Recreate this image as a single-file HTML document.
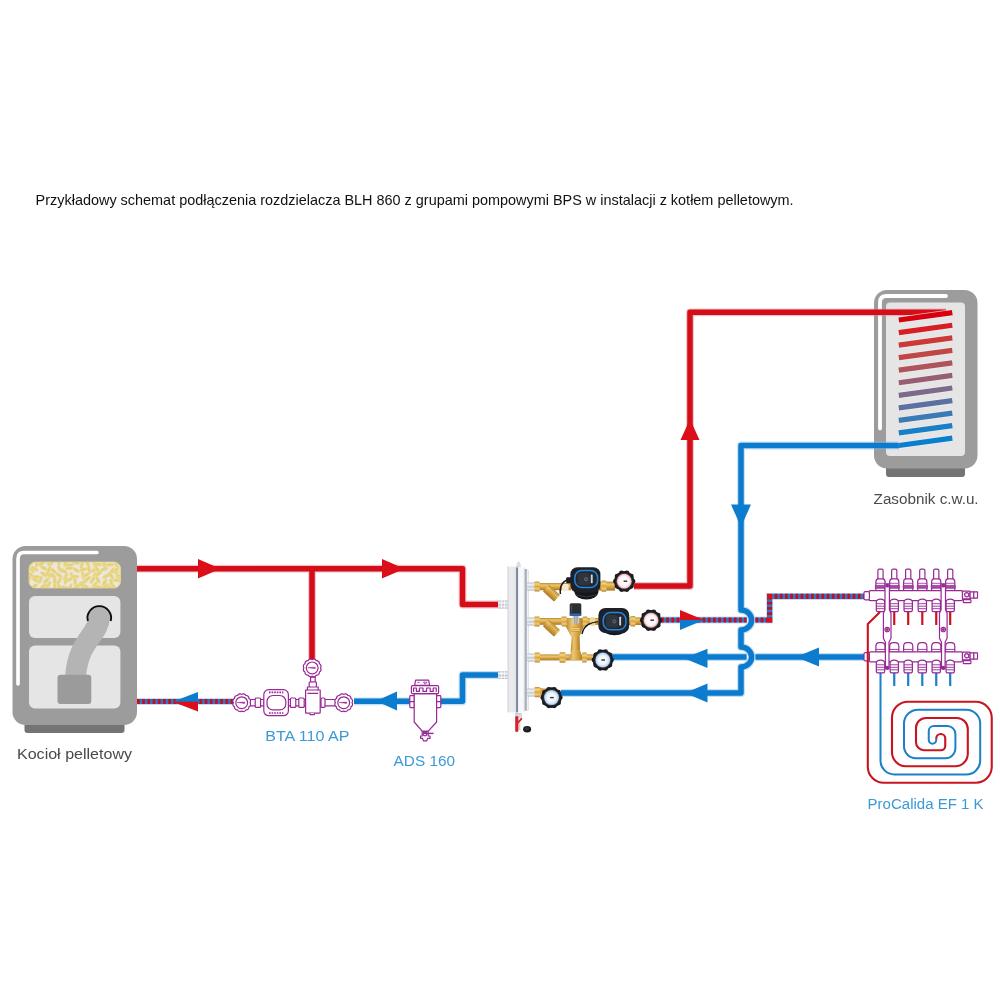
<!DOCTYPE html>
<html lang="pl">
<head>
<meta charset="utf-8">
<title>Schemat BLH 860</title>
<style>
html,body{margin:0;padding:0;background:#fff;}
body{width:1000px;height:1000px;overflow:hidden;font-family:"Liberation Sans",sans-serif;}
svg{display:block;}
text{font-family:"Liberation Sans",sans-serif;}
</style>
</head>
<body>
<svg width="1000" height="1000" viewBox="0 0 1000 1000">
<defs>
  <pattern id="stripeH" width="4" height="8" patternUnits="userSpaceOnUse">
    <rect width="2" height="8" fill="#c8102e"/><rect x="2" width="2" height="8" fill="#2a7fd0"/>
  </pattern>
  <pattern id="stripeV" width="8" height="4" patternUnits="userSpaceOnUse">
    <rect width="8" height="2" fill="#c8102e"/><rect y="2" width="8" height="2" fill="#2a7fd0"/>
  </pattern>
</defs>
<filter id="noop" x="-0.02" y="-0.1" width="1.04" height="1.2" filterUnits="objectBoundingBox"><feOffset dx="0" dy="0"/></filter>
<rect width="1000" height="1000" fill="#fff"/>

<!-- TITLE -->
<g filter="url(#noop)"><text id="title" x="35.6" y="204.6" font-size="14.3" fill="#111" textLength="758" lengthAdjust="spacingAndGlyphs">Przykładowy schemat podłączenia rozdzielacza BLH 860 z grupami pompowymi BPS w instalacji z kotłem pelletowym.</text></g>

<!-- TANK:BEGIN -->
<g id="tank">
  <rect x="886" y="462" width="79" height="15" rx="3" fill="#747474"/>
  <rect x="874" y="290" width="103.5" height="178.5" rx="13" fill="#9c9c9c"/>
  <path d="M946 296H886.5Q880 296 880 302.5V428.5" fill="none" stroke="#fff" stroke-width="3.8" stroke-linecap="round"/>
  <rect x="886" y="302.5" width="79" height="153.5" rx="4" fill="#e5e5e5"/>
</g>
<!-- TANK:END -->

<!-- PIPES:BEGIN -->
<g id="pipes" fill="none" stroke-linejoin="round">
  <!-- halos -->
  <g stroke-width="7.8" opacity="0.5">
    <path stroke="#e8858c" d="M137 568.7H462.5V604.5H499"/>
    <path stroke="#e8858c" d="M312 568.7V659"/>
    <path stroke="#e8858c" d="M634 586H690V312.3H946"/>
    <path stroke="#86bfea" d="M354 701.3H462.5V675H499"/>
    <path stroke="#86bfea" d="M899 445.5H741V610A10.6 10 0 0 1 741 630V647A10.6 10 0 0 1 741 667V693H561"/>
    <path stroke="#86bfea" d="M612 657H746.6 M755.4 657H864"/>
  </g>
  <!-- red supply -->
  <path stroke="#d30e18" stroke-width="5.5" d="M137 568.7H462.5V604.5H499"/>
  <path stroke="#d30e18" stroke-width="5.5" d="M312 568.7V659"/>
  <path stroke="#d30e18" stroke-width="5.5" d="M634 586H690V312.3H946"/>
  <!-- blue return -->
  <path stroke="#0c7bce" stroke-width="5.5" d="M354 701.3H462.5V675H499"/>
  <path stroke="#0c7bce" stroke-width="5.5" d="M899 445.5H741V610A10.6 10 0 0 1 741 630V647A10.6 10 0 0 1 741 667V693H561"/>
  <path stroke="#0c7bce" stroke-width="5.5" d="M612 657H746.6 M755.4 657H864"/>
</g>
<!-- striped pipes -->
<g id="striped" fill="none">
  <g stroke="#9cc6ea" stroke-width="7" opacity="0.6">
    <path d="M137 701.5H235"/><path d="M661 620H746.6M755.4 620H769.6V596.4H864"/>
  </g>
  <g stroke="#2e79c6" stroke-width="5.2">
    <path d="M137 701.5H235"/><path d="M661 620H746.6M755.4 620H769.6V596.4H864"/>
  </g>
  <g stroke="#c01029" stroke-width="5.2" stroke-dasharray="2.8 2.4">
    <path d="M137 701.5H235"/>
    <path d="M661 620H746.6"/><path d="M755.4 620H767"/><path d="M769.6 617.4V599" stroke-dashoffset="2.8"/><path d="M772.2 596.4H864" stroke-dashoffset="2.8"/>
  </g>
  <rect x="767" y="593.8" width="5.2" height="5.2" fill="#db0f19"/>
  <rect x="767" y="617.4" width="5.2" height="5.2" fill="#db0f19"/>
</g>
<!-- arrows -->
<g id="arrows">
  <path fill="#db0f19" d="M198 559L220.5 568.7L198 578.4Z"/>
  <path fill="#db0f19" d="M382 559L404.5 568.7L382 578.4Z"/>
  <path fill="#db0f19" d="M690 419L699.5 440H680.5Z"/>
  <path fill="#0c7ccf" d="M731 504.5H751L741 527Z"/>
  <path fill="#0c7ccf" d="M397 691.5L376 701L397 710.5Z"/>
  <path fill="#0c7ccf" d="M707.5 648.7L684 658.3L707.5 668Z"/>
  <path fill="#0c7ccf" d="M819 647.5L796 657L819 666.5Z"/>
  <path fill="#0c7ccf" d="M707.5 683.5L685 693L707.5 702.5Z"/>
  <path fill="#db0f19" d="M680 610L704 620H680Z"/>
  <path fill="#0c7ccf" d="M680 630L704 620H680Z"/>
  <path fill="#0c7ccf" d="M198 692L172.5 701.8H198Z"/>
  <path fill="#db0f19" d="M198 711.5L172.5 701.8H198Z"/>
</g>
<!-- PIPES:END -->
<!-- COIL:BEGIN -->
<g id="coil" fill="none" stroke-linecap="butt">
  <path d="M898.8 320.00L952.3 312.70" stroke="#f6eeee" stroke-width="6.8" opacity="0.75"/>
  <path d="M898.8 332.55L952.3 325.25" stroke="#f6eeee" stroke-width="6.8" opacity="0.75"/>
  <path d="M898.8 345.10L952.3 337.80" stroke="#f6eeee" stroke-width="6.8" opacity="0.75"/>
  <path d="M898.8 357.65L952.3 350.35" stroke="#f6eeee" stroke-width="6.8" opacity="0.75"/>
  <path d="M898.8 370.20L952.3 362.90" stroke="#f6eeee" stroke-width="6.8" opacity="0.75"/>
  <path d="M898.8 382.75L952.3 375.45" stroke="#f6eeee" stroke-width="6.8" opacity="0.75"/>
  <path d="M898.8 395.30L952.3 388.00" stroke="#f6eeee" stroke-width="6.8" opacity="0.75"/>
  <path d="M898.8 407.85L952.3 400.55" stroke="#f6eeee" stroke-width="6.8" opacity="0.75"/>
  <path d="M898.8 420.40L952.3 413.10" stroke="#f6eeee" stroke-width="6.8" opacity="0.75"/>
  <path d="M898.8 432.95L952.3 425.65" stroke="#f6eeee" stroke-width="6.8" opacity="0.75"/>
  <path d="M898.8 445.50L952.3 438.20" stroke="#f6eeee" stroke-width="6.8" opacity="0.75"/>
  <path d="M898.8 320.00L952.3 312.70" stroke="#d8000f" stroke-width="5.2"/>
  <path d="M898.8 332.55L952.3 325.25" stroke="#d51f25" stroke-width="5.2"/>
  <path d="M898.8 345.10L952.3 337.80" stroke="#cb3a38" stroke-width="5.2"/>
  <path d="M898.8 357.65L952.3 350.35" stroke="#bf4847" stroke-width="5.2"/>
  <path d="M898.8 370.20L952.3 362.90" stroke="#ae545c" stroke-width="5.2"/>
  <path d="M898.8 382.75L952.3 375.45" stroke="#965e72" stroke-width="5.2"/>
  <path d="M898.8 395.30L952.3 388.00" stroke="#7c6a8b" stroke-width="5.2"/>
  <path d="M898.8 407.85L952.3 400.55" stroke="#5c70a2" stroke-width="5.2"/>
  <path d="M898.8 420.40L952.3 413.10" stroke="#3a7bb6" stroke-width="5.2"/>
  <path d="M898.8 432.95L952.3 425.65" stroke="#1880c6" stroke-width="5.2"/>
  <path d="M898.8 445.50L952.3 438.20" stroke="#0a7fd0" stroke-width="5.2"/>
</g>
<!-- COIL:END -->

<!-- BOILER:BEGIN -->
<g id="boiler">
  <rect x="24.5" y="720" width="100" height="13" rx="3" fill="#747474"/>
  <rect x="12.5" y="546" width="124.5" height="179" rx="13" fill="#9c9c9c"/>
  <path d="M97 552.5H24Q18 552.5 18 559V684" fill="none" stroke="#fff" stroke-width="3.6" stroke-linecap="round"/>
  <clipPath id="pelClip"><rect x="29" y="562" width="91.5" height="26" rx="6.5"/></clipPath>
  <rect x="29" y="562" width="91.5" height="26" rx="6.5" fill="#ece6df"/>
  <g clip-path="url(#pelClip)" fill="#e5d37c" stroke="#f1e4b8" stroke-width="0.45"><ellipse cx="30.3" cy="564.2" rx="4.2" ry="1.8" transform="rotate(131 30.3 564.2)"/><ellipse cx="31.6" cy="569.5" rx="4.2" ry="1.8" transform="rotate(53 31.6 569.5)"/><ellipse cx="30.8" cy="574.8" rx="4.2" ry="1.8" transform="rotate(45 30.8 574.8)"/><ellipse cx="28.9" cy="579.7" rx="4.2" ry="1.8" transform="rotate(111 28.9 579.7)"/><ellipse cx="30.6" cy="586.9" rx="4.2" ry="1.8" transform="rotate(47 30.6 586.9)"/><ellipse cx="36.9" cy="563.3" rx="4.2" ry="1.8" transform="rotate(101 36.9 563.3)"/><ellipse cx="34.8" cy="568.8" rx="4.2" ry="1.8" transform="rotate(28 34.8 568.8)"/><ellipse cx="36.1" cy="576.9" rx="4.2" ry="1.8" transform="rotate(6 36.1 576.9)"/><ellipse cx="35.6" cy="580.1" rx="4.2" ry="1.8" transform="rotate(26 35.6 580.1)"/><ellipse cx="34.4" cy="586.3" rx="4.2" ry="1.8" transform="rotate(141 34.4 586.3)"/><ellipse cx="41.6" cy="563.6" rx="4.2" ry="1.8" transform="rotate(-25 41.6 563.6)"/><ellipse cx="43.7" cy="567.9" rx="4.2" ry="1.8" transform="rotate(33 43.7 567.9)"/><ellipse cx="43.7" cy="574.2" rx="4.2" ry="1.8" transform="rotate(37 43.7 574.2)"/><ellipse cx="40.4" cy="579.8" rx="4.2" ry="1.8" transform="rotate(111 40.4 579.8)"/><ellipse cx="43.6" cy="586.3" rx="4.2" ry="1.8" transform="rotate(149 43.6 586.3)"/><ellipse cx="48.7" cy="563.1" rx="4.2" ry="1.8" transform="rotate(78 48.7 563.1)"/><ellipse cx="49.0" cy="570.0" rx="4.2" ry="1.8" transform="rotate(115 49.0 570.0)"/><ellipse cx="48.5" cy="574.8" rx="4.2" ry="1.8" transform="rotate(44 48.5 574.8)"/><ellipse cx="46.3" cy="580.7" rx="4.2" ry="1.8" transform="rotate(138 46.3 580.7)"/><ellipse cx="48.5" cy="584.8" rx="4.2" ry="1.8" transform="rotate(121 48.5 584.8)"/><ellipse cx="51.8" cy="562.7" rx="4.2" ry="1.8" transform="rotate(125 51.8 562.7)"/><ellipse cx="53.6" cy="571.1" rx="4.2" ry="1.8" transform="rotate(46 53.6 571.1)"/><ellipse cx="53.2" cy="576.0" rx="4.2" ry="1.8" transform="rotate(39 53.2 576.0)"/><ellipse cx="54.7" cy="581.7" rx="4.2" ry="1.8" transform="rotate(84 54.7 581.7)"/><ellipse cx="54.7" cy="587.7" rx="4.2" ry="1.8" transform="rotate(93 54.7 587.7)"/><ellipse cx="58.6" cy="562.2" rx="4.2" ry="1.8" transform="rotate(80 58.6 562.2)"/><ellipse cx="59.8" cy="569.2" rx="4.2" ry="1.8" transform="rotate(58 59.8 569.2)"/><ellipse cx="59.1" cy="575.3" rx="4.2" ry="1.8" transform="rotate(39 59.1 575.3)"/><ellipse cx="59.0" cy="581.2" rx="4.2" ry="1.8" transform="rotate(122 59.0 581.2)"/><ellipse cx="59.1" cy="587.3" rx="4.2" ry="1.8" transform="rotate(80 59.1 587.3)"/><ellipse cx="65.3" cy="562.9" rx="4.2" ry="1.8" transform="rotate(105 65.3 562.9)"/><ellipse cx="63.7" cy="571.1" rx="4.2" ry="1.8" transform="rotate(34 63.7 571.1)"/><ellipse cx="65.5" cy="576.8" rx="4.2" ry="1.8" transform="rotate(118 65.5 576.8)"/><ellipse cx="65.9" cy="580.4" rx="4.2" ry="1.8" transform="rotate(104 65.9 580.4)"/><ellipse cx="64.1" cy="587.6" rx="4.2" ry="1.8" transform="rotate(9 64.1 587.6)"/><ellipse cx="69.7" cy="565.0" rx="4.2" ry="1.8" transform="rotate(-2 69.7 565.0)"/><ellipse cx="69.5" cy="568.3" rx="4.2" ry="1.8" transform="rotate(-3 69.5 568.3)"/><ellipse cx="72.1" cy="575.9" rx="4.2" ry="1.8" transform="rotate(70 72.1 575.9)"/><ellipse cx="70.5" cy="579.1" rx="4.2" ry="1.8" transform="rotate(145 70.5 579.1)"/><ellipse cx="70.0" cy="587.5" rx="4.2" ry="1.8" transform="rotate(114 70.0 587.5)"/><ellipse cx="75.9" cy="562.9" rx="4.2" ry="1.8" transform="rotate(3 75.9 562.9)"/><ellipse cx="76.0" cy="570.1" rx="4.2" ry="1.8" transform="rotate(34 76.0 570.1)"/><ellipse cx="75.1" cy="576.6" rx="4.2" ry="1.8" transform="rotate(2 75.1 576.6)"/><ellipse cx="75.2" cy="581.6" rx="4.2" ry="1.8" transform="rotate(84 75.2 581.6)"/><ellipse cx="77.1" cy="586.4" rx="4.2" ry="1.8" transform="rotate(146 77.1 586.4)"/><ellipse cx="81.9" cy="564.7" rx="4.2" ry="1.8" transform="rotate(106 81.9 564.7)"/><ellipse cx="83.4" cy="569.6" rx="4.2" ry="1.8" transform="rotate(-14 83.4 569.6)"/><ellipse cx="83.0" cy="575.4" rx="4.2" ry="1.8" transform="rotate(80 83.0 575.4)"/><ellipse cx="83.4" cy="582.1" rx="4.2" ry="1.8" transform="rotate(-18 83.4 582.1)"/><ellipse cx="82.1" cy="585.3" rx="4.2" ry="1.8" transform="rotate(49 82.1 585.3)"/><ellipse cx="87.6" cy="563.6" rx="4.2" ry="1.8" transform="rotate(61 87.6 563.6)"/><ellipse cx="89.1" cy="569.5" rx="4.2" ry="1.8" transform="rotate(80 89.1 569.5)"/><ellipse cx="86.2" cy="575.0" rx="4.2" ry="1.8" transform="rotate(151 86.2 575.0)"/><ellipse cx="87.2" cy="579.1" rx="4.2" ry="1.8" transform="rotate(142 87.2 579.1)"/><ellipse cx="86.5" cy="587.1" rx="4.2" ry="1.8" transform="rotate(39 86.5 587.1)"/><ellipse cx="94.5" cy="564.4" rx="4.2" ry="1.8" transform="rotate(71 94.5 564.4)"/><ellipse cx="94.4" cy="570.0" rx="4.2" ry="1.8" transform="rotate(149 94.4 570.0)"/><ellipse cx="94.5" cy="575.6" rx="4.2" ry="1.8" transform="rotate(120 94.5 575.6)"/><ellipse cx="92.5" cy="580.1" rx="4.2" ry="1.8" transform="rotate(120 92.5 580.1)"/><ellipse cx="94.6" cy="585.1" rx="4.2" ry="1.8" transform="rotate(127 94.6 585.1)"/><ellipse cx="97.8" cy="564.5" rx="4.2" ry="1.8" transform="rotate(3 97.8 564.5)"/><ellipse cx="97.5" cy="569.6" rx="4.2" ry="1.8" transform="rotate(59 97.5 569.6)"/><ellipse cx="98.8" cy="573.5" rx="4.2" ry="1.8" transform="rotate(138 98.8 573.5)"/><ellipse cx="97.8" cy="579.7" rx="4.2" ry="1.8" transform="rotate(63 97.8 579.7)"/><ellipse cx="97.6" cy="587.1" rx="4.2" ry="1.8" transform="rotate(-5 97.6 587.1)"/><ellipse cx="104.3" cy="564.4" rx="4.2" ry="1.8" transform="rotate(77 104.3 564.4)"/><ellipse cx="104.1" cy="569.1" rx="4.2" ry="1.8" transform="rotate(-20 104.1 569.1)"/><ellipse cx="106.0" cy="576.3" rx="4.2" ry="1.8" transform="rotate(149 106.0 576.3)"/><ellipse cx="104.6" cy="582.5" rx="4.2" ry="1.8" transform="rotate(122 104.6 582.5)"/><ellipse cx="105.7" cy="586.1" rx="4.2" ry="1.8" transform="rotate(150 105.7 586.1)"/><ellipse cx="110.0" cy="564.8" rx="4.2" ry="1.8" transform="rotate(-2 110.0 564.8)"/><ellipse cx="112.1" cy="571.0" rx="4.2" ry="1.8" transform="rotate(122 112.1 571.0)"/><ellipse cx="110.9" cy="575.5" rx="4.2" ry="1.8" transform="rotate(49 110.9 575.5)"/><ellipse cx="111.2" cy="582.5" rx="4.2" ry="1.8" transform="rotate(80 111.2 582.5)"/><ellipse cx="110.3" cy="587.3" rx="4.2" ry="1.8" transform="rotate(-12 110.3 587.3)"/><ellipse cx="116.2" cy="564.0" rx="4.2" ry="1.8" transform="rotate(69 116.2 564.0)"/><ellipse cx="116.2" cy="570.2" rx="4.2" ry="1.8" transform="rotate(127 116.2 570.2)"/><ellipse cx="117.3" cy="575.4" rx="4.2" ry="1.8" transform="rotate(81 117.3 575.4)"/><ellipse cx="116.4" cy="580.3" rx="4.2" ry="1.8" transform="rotate(3 116.4 580.3)"/><ellipse cx="114.3" cy="587.4" rx="4.2" ry="1.8" transform="rotate(51 114.3 587.4)"/><ellipse cx="123.1" cy="564.9" rx="4.2" ry="1.8" transform="rotate(154 123.1 564.9)"/><ellipse cx="121.4" cy="569.5" rx="4.2" ry="1.8" transform="rotate(107 121.4 569.5)"/><ellipse cx="120.4" cy="576.9" rx="4.2" ry="1.8" transform="rotate(36 120.4 576.9)"/><ellipse cx="120.6" cy="579.2" rx="4.2" ry="1.8" transform="rotate(97 120.6 579.2)"/><ellipse cx="122.1" cy="586.9" rx="4.2" ry="1.8" transform="rotate(126 122.1 586.9)"/></g>
  <rect x="29" y="562" width="91.5" height="26" rx="6.5" fill="none" stroke="#e6d68c" stroke-width="0.8"/>
  <rect x="29" y="596" width="91.4" height="42" rx="6" fill="#e5e5e5"/>
  <rect x="29" y="645.6" width="91.4" height="62.8" rx="6" fill="#e5e5e5"/>
  <path d="M99.3 617C99 635 78 640 75.5 677" fill="none" stroke="#b4b4b4" stroke-width="21"/>
  <circle cx="99.3" cy="617" r="10.8" fill="#b4b4b4"/>
  <path d="M87.9 621A11.8 11.8 0 1 1 110.7 621" fill="none" stroke="#0c0c0c" stroke-width="1.9"/>
  <rect x="57.5" y="674.8" width="33.8" height="29.2" rx="3" fill="#9b9b9b"/>
</g>
<!-- BOILER:END -->


<!-- SEPARATOR:BEGIN -->
<defs>
  <linearGradient id="gSepL" x1="0" x2="1" y1="0" y2="0">
    <stop offset="0" stop-color="#d9dbe0"/><stop offset="0.25" stop-color="#ececf0"/><stop offset="1" stop-color="#e3e5ea"/>
  </linearGradient>
  <linearGradient id="gSepR" x1="0" x2="1" y1="0" y2="0">
    <stop offset="0" stop-color="#f4f5f8"/><stop offset="0.6" stop-color="#fbfbfd"/><stop offset="1" stop-color="#e6e8ee"/>
  </linearGradient>
  <linearGradient id="gSilverV" x1="0" x2="0" y1="0" y2="1">
    <stop offset="0" stop-color="#b9bec6"/><stop offset="0.3" stop-color="#f3f5f8"/><stop offset="0.55" stop-color="#c4c9d1"/><stop offset="0.8" stop-color="#eef0f4"/><stop offset="1" stop-color="#aab0ba"/>
  </linearGradient>
  <linearGradient id="gBrassV" x1="0" x2="0" y1="0" y2="1">
    <stop offset="0" stop-color="#b98a33"/><stop offset="0.3" stop-color="#ecc771"/><stop offset="0.6" stop-color="#d7a441"/><stop offset="1" stop-color="#a97724"/>
  </linearGradient>
  <linearGradient id="gBrassH" x1="0" x2="1" y1="0" y2="0">
    <stop offset="0" stop-color="#b98a33"/><stop offset="0.35" stop-color="#ecc771"/><stop offset="0.65" stop-color="#d7a441"/><stop offset="1" stop-color="#a97724"/>
  </linearGradient>
  <linearGradient id="gNutV" x1="0" x2="0" y1="0" y2="1">
    <stop offset="0" stop-color="#c4922f"/><stop offset="0.25" stop-color="#f3d585"/><stop offset="0.5" stop-color="#d9a843"/><stop offset="0.75" stop-color="#efcb77"/><stop offset="1" stop-color="#b07f2a"/>
  </linearGradient>
  <radialGradient id="gFaceR" cx="0.5" cy="0.5" r="0.5">
    <stop offset="0" stop-color="#ffffff"/><stop offset="0.7" stop-color="#fbf3f4"/><stop offset="0.88" stop-color="#f3c9cf"/><stop offset="1" stop-color="#e8a0aa"/>
  </radialGradient>
  <radialGradient id="gFaceB" cx="0.5" cy="0.5" r="0.5">
    <stop offset="0" stop-color="#ffffff"/><stop offset="0.6" stop-color="#eef4fb"/><stop offset="0.85" stop-color="#c5dcf3"/><stop offset="1" stop-color="#8fbbe6"/>
  </radialGradient>
  <g id="gaugeKnob">
    <circle r="10.3" fill="#1b1c1f"/>
    <g fill="#1b1c1f"><circle cx="8.70" cy="0.00" r="2.45"/><circle cx="7.04" cy="5.11" r="2.45"/><circle cx="2.69" cy="8.27" r="2.45"/><circle cx="-2.69" cy="8.27" r="2.45"/><circle cx="-7.04" cy="5.11" r="2.45"/><circle cx="-8.70" cy="0.00" r="2.45"/><circle cx="-7.04" cy="-5.11" r="2.45"/><circle cx="-2.69" cy="-8.27" r="2.45"/><circle cx="2.69" cy="-8.27" r="2.45"/><circle cx="7.04" cy="-5.11" r="2.45"/></g>
    <circle r="8.5" fill="#2d2f34"/>
  </g>
  <g id="gaugeR">
    <use href="#gaugeKnob"/>
    <circle r="7.5" fill="url(#gFaceR)"/>
    <rect x="-0.6" y="-0.7" width="3.6" height="1.4" fill="#3a2a30"/>
  </g>
  <g id="gaugeB">
    <use href="#gaugeKnob"/>
    <circle r="7.5" fill="url(#gFaceB)"/>
    <rect x="-1.4" y="-0.7" width="3.6" height="1.4" fill="#2a3040"/>
  </g>
  <g id="pumpFace">
    <!-- origin = centre of blue ring -->
    <rect x="-11.4" y="-8.6" width="22.8" height="17.2" rx="7.2" fill="#23272e" stroke="#1f86dc" stroke-width="1.5"/>
    <rect x="-8.4" y="-6.2" width="12" height="12.4" rx="3" fill="#30343b"/>
    <circle cx="-0.2" cy="0.2" r="1.5" fill="none" stroke="#8f98a6" stroke-width="0.6"/>
    <rect x="4.6" y="-4.4" width="1.9" height="8.6" rx="0.4" fill="#c9d4e6"/>
  </g>
  <g id="pump1">
    <ellipse cx="0.2" cy="12.2" rx="12" ry="8.4" fill="#15171b"/>
    <rect x="-15.8" y="-11.8" width="30" height="25.3" rx="7" fill="#1d2026"/>
    <path d="M-10 15.6Q0 20 10.6 15.6" fill="none" stroke="#2f333a" stroke-width="1.1"/>
    <use href="#pumpFace"/>
  </g>
  <g id="pump2">
    <ellipse cx="0" cy="7.4" rx="12.4" ry="6.7" fill="#15171b"/>
    <rect x="-16.2" y="-13.2" width="30.8" height="25" rx="7" fill="#1d2026"/>
    <use href="#pumpFace"/>
  </g>
</defs>
<g id="separator">
  <!-- side nipples -->
  <rect x="498" y="600.6" width="10.5" height="7.8" rx="1" fill="url(#gSilverV)"/>
  <rect x="498" y="671.2" width="10.5" height="7.8" rx="1" fill="url(#gSilverV)"/>
  <path d="M501.5 600.6V608.4M504.5 600.6V608.4M501.5 671.2V679M504.5 671.2V679" stroke="#fff" stroke-width="0.8" opacity="0.8"/>
  <!-- body -->
  <path d="M516.6 567L517.6 562.6Q518.6 561.6 519.6 562.6L520.6 567Z" fill="#dfe2e8" stroke="#c3c7cf" stroke-width="0.5"/>
  <rect x="526.2" y="570" width="2.6" height="140.6" fill="#f1f2f5" stroke="#c9ccd3" stroke-width="0.4"/>
  <rect x="507.8" y="566.6" width="8.6" height="145.8" fill="url(#gSepL)"/>
  <rect x="516" y="567.4" width="2.3" height="145" fill="#7f8b9b"/>
  <rect x="518.2" y="567.4" width="6.6" height="145" fill="url(#gSepR)"/>
  <rect x="524.6" y="569" width="2.2" height="141.6" fill="#aab0bb"/>
  <path d="M507.9 566.6V712.4" stroke="#cfd2d8" stroke-width="0.6"/>
  <!-- drain -->
  <rect x="515.4" y="713.2" width="6" height="4.2" fill="#d5d8de" stroke="#aeb2ba" stroke-width="0.4"/>
  <path d="M516.8 717.6V730.4" stroke="#d8202a" stroke-width="3.2" stroke-linecap="round"/>
  <path d="M518 722.6L521.4 718.8" stroke="#d8202a" stroke-width="1.8" stroke-linecap="round"/>
  <path d="M519.8 723V730" stroke="#b9c3b4" stroke-width="1" />
  <ellipse cx="527.1" cy="729.3" rx="4" ry="3.3" fill="#1d1d20"/>
  <ellipse cx="526.8" cy="728.8" rx="2" ry="1.5" fill="#34343a"/>
</g>
<!-- SEPARATOR:END -->

<!-- GROUPS:BEGIN -->
<g id="groups">
  <!-- silver nipples on right of separator -->
  <g fill="url(#gSilverV)">
    <rect x="527" y="582.4" width="7.6" height="8" rx="0.8"/>
    <rect x="527" y="617.4" width="7.6" height="8" rx="0.8"/>
    <rect x="527" y="653.4" width="7.6" height="8" rx="0.8"/>
    <rect x="527" y="688.4" width="7.6" height="8" rx="0.8"/>
  </g>
  <!-- ROW 1 -->
  <g id="row1">
    <rect x="539" y="583" width="32" height="7.2" fill="url(#gBrassV)"/>
    <g transform="translate(546.5 588.5) rotate(43)">
      <rect x="-1" y="-4.5" width="15.5" height="9" rx="1" fill="url(#gBrassV)"/>
      <path d="M4 -4.5V4.5M6 -4.5V4.5M8 -4.5V4.5M10 -4.5V4.5M12 -4.5V4.5" stroke="#b5852e" stroke-width="0.6"/>
    </g>
    <rect x="534.2" y="581.4" width="5.6" height="10.2" rx="1" fill="url(#gNutV)"/>
    <rect x="562" y="584" width="6.6" height="7" rx="1.4" fill="#f4ead2"/>
    <path d="M560.4 594C559.4 586 563 580.6 569 579.6" fill="none" stroke="#17181b" stroke-width="1.5"/>
    <rect x="566.2" y="577.2" width="6" height="6" rx="1" fill="#1b1d21"/>
    <rect x="599" y="581.6" width="16" height="9" fill="url(#gBrassV)"/>
    <rect x="601.4" y="580.4" width="5" height="11.4" rx="1" fill="url(#gNutV)"/>
    <use href="#pump1" x="586.2" y="579"/>
    <use href="#gaugeR" x="624.2" y="581.2"/>
  </g>
  <!-- ROW 2 -->
  <g id="row2">
    <rect x="539" y="618" width="60" height="6.8" fill="url(#gBrassV)"/>
    <g transform="translate(546.5 623.5) rotate(43)">
      <rect x="-1" y="-4.5" width="15.5" height="9" rx="1" fill="url(#gBrassV)"/>
      <path d="M4 -4.5V4.5M6 -4.5V4.5M8 -4.5V4.5M10 -4.5V4.5M12 -4.5V4.5" stroke="#b5852e" stroke-width="0.6"/>
    </g>
    <rect x="534.2" y="616.4" width="5.6" height="10.2" rx="1" fill="url(#gNutV)"/>
    <!-- mixing valve body + vertical leg -->
    <path d="M572.2 630L570.6 652H580L579.4 630Z" fill="url(#gBrassH)"/>
    <path d="M566 618.4H583.5V627L579.5 636.6H571L566 627Z" fill="url(#gBrassH)"/>
    <rect x="561.4" y="616.6" width="5.4" height="10" rx="1" fill="url(#gNutV)"/>
    <rect x="582.6" y="616.6" width="5" height="10" rx="1" fill="url(#gNutV)"/>
    <rect x="570.8" y="627.6" width="8.8" height="4" rx="0.8" fill="url(#gNutV)"/>
    <rect x="590" y="617" width="5.4" height="9" rx="2" fill="#efd89a"/>
    <rect x="572.8" y="615.6" width="6.4" height="7.8" fill="#c9ced6"/>
    <path d="M574.8 616V623.4M577 616V623.4" stroke="#6f7783" stroke-width="0.7"/>
    <rect x="569.7" y="603.2" width="11.6" height="12.8" rx="1.6" fill="#2a2e35"/>
    <rect x="569.7" y="613.6" width="11.6" height="2.2" fill="#2f6fae"/>
    <path d="M571.6 604.6V612.6" stroke="#4a4f58" stroke-width="1"/>
    <path d="M582 634C584 624 592 622.4 598 621.6" fill="none" stroke="#17181b" stroke-width="1.4"/>
    <rect x="628.6" y="617.4" width="14" height="7.6" fill="url(#gBrassV)"/>
    <rect x="630.4" y="616" width="5" height="10.4" rx="1" fill="url(#gNutV)"/>
    <use href="#pump2" x="614.6" y="621.2"/>
    <use href="#gaugeR" x="651" y="620.2"/>
  </g>
  <!-- ROW 3 -->
  <g id="row3">
    <rect x="539" y="654.4" width="55" height="6" fill="url(#gBrassV)"/>
    <path d="M568 660L572 650H580L583 660Z" fill="url(#gBrassH)"/>
    <rect x="534.4" y="652.4" width="5.6" height="10.2" rx="1" fill="url(#gNutV)"/>
    <rect x="559.4" y="652.2" width="6.2" height="10.6" rx="1" fill="url(#gNutV)"/>
    <rect x="582" y="652.6" width="4.8" height="10" rx="1" fill="url(#gNutV)"/>
    <use href="#gaugeB" x="602.8" y="660"/>
  </g>
  <!-- ROW 4 -->
  <g id="row4">
    <rect x="539" y="689.6" width="6" height="6" fill="url(#gBrassV)"/>
    <path d="M540 688L560 690V696L540 696Z" fill="#d7a441"/>
    <rect x="534.4" y="687" width="5.8" height="10.2" rx="1" fill="url(#gNutV)"/>
    <use href="#gaugeB" x="551.5" y="697.6"/>
  </g>
</g>
<!-- GROUPS:END -->

<!-- BTA:BEGIN -->
<defs>
  <g id="pGauge">
    <path d="M8.30 0.00A2.7 2.7 0 0 1 7.19 4.15A2.7 2.7 0 0 1 4.15 7.19A2.7 2.7 0 0 1 0.00 8.30A2.7 2.7 0 0 1 -4.15 7.19A2.7 2.7 0 0 1 -7.19 4.15A2.7 2.7 0 0 1 -8.30 0.00A2.7 2.7 0 0 1 -7.19 -4.15A2.7 2.7 0 0 1 -4.15 -7.19A2.7 2.7 0 0 1 0.00 -8.30A2.7 2.7 0 0 1 4.15 -7.19A2.7 2.7 0 0 1 7.19 -4.15A2.7 2.7 0 0 1 8.30 0.00Z"/>
    <circle r="5.9"/>
    <path d="M-4.4 -0.2L3 -0.7V0.7Z" fill="#a2309f" stroke-width="0.5"/>
  </g>
</defs>
<g id="bta" fill="#fff" stroke="#972894" stroke-width="1.2" stroke-linejoin="round">
  <!-- connectors -->
  <rect x="250" y="699.5" width="14" height="6.4"/>
  <rect x="255.2" y="698" width="5.4" height="9.4" rx="1"/>
  <rect x="288.4" y="699.5" width="18" height="6.4"/>
  <rect x="290.4" y="698" width="5.4" height="9.4" rx="1"/>
  <rect x="298.8" y="698" width="5.4" height="9.4" rx="1"/>
  <rect x="320" y="699.5" width="16" height="6.4"/>
  <rect x="321" y="698" width="4" height="9.4" rx="1"/>
  <!-- pump -->
  <rect x="263.8" y="689.7" width="24.6" height="26" rx="5"/>
  <path d="M269 692.4H283.4M269 713H283.4" stroke-width="1.6" stroke-dasharray="1.6 1"/>
  <rect x="267" y="695.5" width="18.8" height="14.4" rx="6"/>
  <!-- valve body -->
  <rect x="310.6" y="677.2" width="4.6" height="6"/>
  <rect x="309.2" y="681.8" width="7.2" height="6" rx="1"/>
  <path d="M307.4 687H318.2V690H320.2V712.4Q320.2 713.2 319.4 713.2H306.4Q305.6 713.2 305.6 712.4V690H307.4Z"/>
  <path d="M307.4 690H318.2M307.4 693.4H318.2"/>
  <path d="M310 713.2V714.6H314.4V713.2" />
  <!-- gauges -->
  <use href="#pGauge" x="241.7" y="702.7"/>
  <use href="#pGauge" x="343.7" y="702.7"/>
  <use href="#pGauge" x="312.2" y="667.9"/>
</g>
<!-- BTA:END -->

<!-- ADS:BEGIN -->
<g id="ads" fill="#fff" stroke="#972894" stroke-width="1.2" stroke-linejoin="round">
  <rect x="409.8" y="695.6" width="4.6" height="12" rx="0.8"/>
  <rect x="436.4" y="695.6" width="4.4" height="12" rx="0.8"/>
  <path d="M409.8 701.6H414.4M436.4 701.6H440.8"/>
  <path d="M414.2 693.6H436.6V722L428 731.4H422.4L414.2 722Z"/>
  <path d="M415.6 680.2H428.6L429.6 685.4H414.6Z"/>
  <path d="M417.4 682.4H419.6M423.4 682.2H427L425.2 684.4Z" stroke-width="0.8"/>
  <path d="M412.6 685.6H437.4Q438.6 685.6 438.6 686.8V692.4Q438.6 693.6 437.4 693.6H412.6Q411.4 693.6 411.4 692.4V686.8Q411.4 685.6 412.6 685.6Z"/>
  <path d="M413.6 692V688H416.4V691.4H419.4V688H423V691.4H426.6V688H430.2V691.4H433.2V688H436.2V692" fill="none"/>
  <path d="M422.2 731.4H428.2V736H430V738.4H427.6L426.8 740.8H423.4L422.6 738.4H420.6V736H422.2Z"/>
  <path d="M424 733.4H433.6" stroke-width="1.4"/>
  <circle cx="425" cy="734" r="1.8" fill="none"/>
</g>
<!-- ADS:END -->

<!-- SPIRAL:BEGIN -->
<g id="spiral" fill="none" stroke-width="2" stroke-linecap="round" stroke-linejoin="round">
  <path stroke="#1a80c8" d="M880.5 672V760.5A14 14 0 0 0 894.5 774.5H966A14 14 0 0 0 980.2 760.5V723.7A14 14 0 0 0 966 709.7H918A14 14 0 0 0 904 723.7V746.3A12 12 0 0 0 916 758.3H945.4A10 10 0 0 0 955.4 748.3V734A8 8 0 0 0 947.4 726H933.75A5 5 0 0 0 928.75 731V740A3.75 3.75 0 0 0 936.25 740V738.5"/>
  <g stroke="#c9141f" stroke-width="2.2" stroke-linecap="butt">
    <path d="M894.25 611V625"/><path d="M908.2 611V625"/><path d="M922.3 611V625"/><path d="M936.25 611V625"/><path d="M950.2 611V625"/>
  </g>
  <g stroke="#1a80c8" stroke-width="2.2" stroke-linecap="butt">
    <path d="M894.25 672V686"/><path d="M908.2 672V686"/><path d="M922.3 672V686"/><path d="M936.25 672V686"/><path d="M950.2 672V686"/>
  </g>
</g>
<!-- SPIRAL:END -->

<!-- MANIFOLD:BEGIN -->
<defs>
  <g id="mvTop">
    <rect x="-2.6" y="-21.5" width="5.2" height="11" rx="1.4"/>
    <path d="M-4.6 0V-8.4Q-4.6 -11.8 -2.4 -11.8H2.4Q4.6 -11.8 4.6 -8.4V0Z"/>
    <rect x="-5.1" y="-5.3" width="10.2" height="2.9" fill="#a84aa6" stroke-width="0.7"/>
    <path d="M-4.6 -7.4H4.6" stroke-width="0.8"/>
  </g>
  <g id="mvBot">
    <path d="M-4.2 8.6V1.6Q-4.2 -1.6 0 -1.6Q4.2 -1.6 4.2 1.6V8.6Q4.2 11 3 11H-3Q-4.2 11 -4.2 8.6Z"/>
    <path d="M-4.2 3H4.2M-4.2 5.5H4.2M-4.2 8H4.2" stroke-width="0.9"/>
  </g>
  <g id="mvCap">
    <path d="M-4.6 0.2V-5.4Q-4.6 -9.2 -1 -9.2H1Q4.6 -9.2 4.6 -5.4V0.2Z"/>
    <path d="M-4.6 -2.4H4.6" stroke-width="0.9"/>
  </g>
  <g id="mvEnd">
    <rect x="0" y="-3.9" width="7.6" height="7.8" rx="0.8"/>
    <circle cx="4.2" cy="-0.2" r="2.1"/>
    <rect x="7.6" y="-3.1" width="3.7" height="6.2"/>
    <rect x="11.3" y="-3.1" width="3.7" height="6.2"/>
    <rect x="0.8" y="4.6" width="7.6" height="3" rx="0.6"/>
  </g>
  <g id="mvBracket">
    <path d="M-2.2 -45.5H2.2V-19.5L3.8 -16V9L1.8 13V38Q1.8 40 0 40Q-1.8 40 -1.8 38V13L-3.8 9V-16L-2.2 -19.5Z"/>
    <circle cx="0" cy="0.3" r="2.2"/><circle cx="0" cy="0.3" r="0.8" fill="#972894"/>
    <circle cx="0" cy="-43.6" r="1.3" fill="#972894"/><circle cx="0" cy="38.4" r="1.3" fill="#972894"/>
  </g>
</defs>
<g id="manifold" fill="#fff" stroke="#972894" stroke-width="1.2" stroke-linejoin="round">
  <!-- top bar -->
  <use href="#mvTop" x="880.5" y="590.7"/><use href="#mvTop" x="894.25" y="590.7"/><use href="#mvTop" x="908.2" y="590.7"/><use href="#mvTop" x="922.3" y="590.7"/><use href="#mvTop" x="936.25" y="590.7"/><use href="#mvTop" x="950.2" y="590.7"/>
  <rect x="869" y="590.7" width="93.5" height="10" rx="1.2"/>
  <rect x="864" y="591.6" width="5.4" height="8.2" rx="1.2"/>
  <use href="#mvBot" x="880.5" y="600.7"/><use href="#mvBot" x="894.25" y="600.7"/><use href="#mvBot" x="908.2" y="600.7"/><use href="#mvBot" x="922.3" y="600.7"/><use href="#mvBot" x="936.25" y="600.7"/><use href="#mvBot" x="950.2" y="600.7"/>
  <use href="#mvEnd" x="962.5" y="595"/>
  <!-- bottom bar -->
  <use href="#mvCap" x="880.5" y="651.8"/><use href="#mvCap" x="894.25" y="651.8"/><use href="#mvCap" x="908.2" y="651.8"/><use href="#mvCap" x="922.3" y="651.8"/><use href="#mvCap" x="936.25" y="651.8"/><use href="#mvCap" x="950.2" y="651.8"/>
  <rect x="869" y="651.8" width="93.5" height="10" rx="1.2"/>
  <rect x="864" y="652.7" width="5.4" height="8.2" rx="1.2"/>
  <use href="#mvBot" x="880.5" y="661.8"/><use href="#mvBot" x="894.25" y="661.8"/><use href="#mvBot" x="908.2" y="661.8"/><use href="#mvBot" x="922.3" y="661.8"/><use href="#mvBot" x="936.25" y="661.8"/><use href="#mvBot" x="950.2" y="661.8"/>
  <use href="#mvEnd" x="962.5" y="656"/>
  <!-- brackets -->
  <use href="#mvBracket" x="887.2" y="629.25"/><use href="#mvBracket" x="943.3" y="629.25"/>
</g>
<!-- MANIFOLD:END -->
<g fill="none" stroke-width="2.1" stroke-linejoin="round">
  <path stroke="#c9141f" d="M880 612L867.8 624V767A16 16 0 0 0 884 782.75H976A16 16 0 0 0 991.75 767V717.5A16 16 0 0 0 976 701.75H908A16 16 0 0 0 892 717.5V752A14 14 0 0 0 906 766.25H955.3A12.5 12.5 0 0 0 967.8 753.75V729A11 11 0 0 0 956.8 718H926A10 10 0 0 0 916 727.8V742.2A8 8 0 0 0 924 750.2H941A4.25 4.25 0 0 0 945.25 746V738.5A4.5 4.5 0 0 0 936.25 738.5"/>
</g>

<!-- LABELS -->
<g id="labels" font-size="14.7" filter="url(#noop)">
  <text x="17" y="758.5" fill="#4a4a4a" textLength="115" lengthAdjust="spacingAndGlyphs">Kocioł pelletowy</text>
  <text x="873.6" y="503.5" fill="#4a4a4a" textLength="105" lengthAdjust="spacingAndGlyphs">Zasobnik c.w.u.</text>
  <text x="265.2" y="741" fill="#3b9ad6" textLength="84.2" lengthAdjust="spacingAndGlyphs">BTA 110 AP</text>
  <text x="393.6" y="766.2" fill="#3b9ad6" textLength="61.4" lengthAdjust="spacingAndGlyphs">ADS 160</text>
  <text x="867.6" y="809.3" fill="#3b9ad6" textLength="116" lengthAdjust="spacingAndGlyphs">ProCalida EF 1 K</text>
</g>
</svg>
</body>
</html>
